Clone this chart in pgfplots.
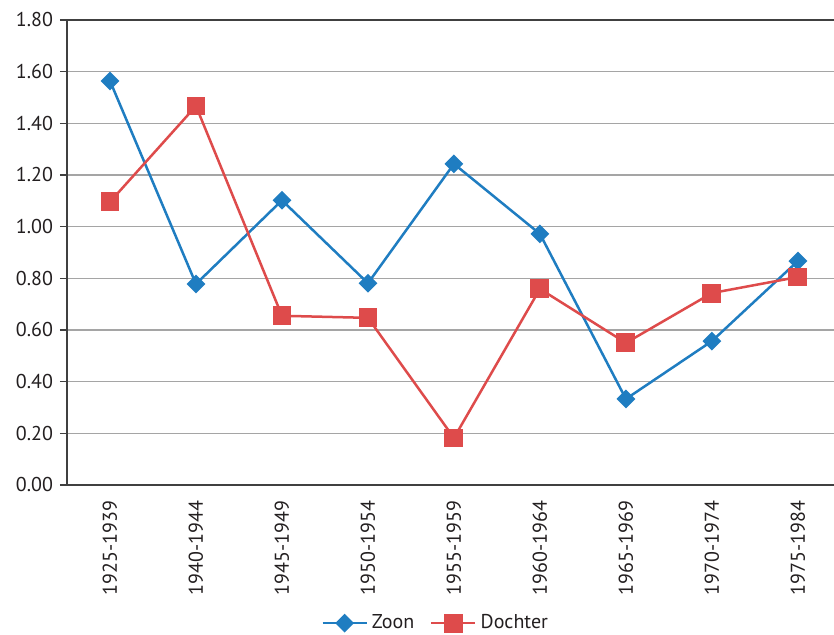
\documentclass[border=0pt]{standalone}
\usepackage{pgfplots}
\pgfplotsset{compat=1.18}
\usepackage{fontspec}
\setmainfont{PT Sans}
\definecolor{zoonblue}{RGB}{31,125,193}
\definecolor{dochred}{RGB}{222,75,75}
\definecolor{txt}{RGB}{35,31,32}
\definecolor{gridgray}{RGB}{165,165,165}
\begin{document}
\begin{tikzpicture}
\useasboundingbox (-33.5pt,-75pt) rectangle (383.5pt,242.5pt);
\begin{axis}[
    scale only axis,
    width=383.5pt,
    height=232.5pt,
    xmin=-0.5, xmax=8.42,
    ymin=0, ymax=1.8,
    ytick={0,0.2,...,1.8},
    xtick={0,...,8},
    xticklabels={1925-1939,1940-1944,1945-1949,1950-1954,1955-1959,1960-1964,1965-1969,1970-1974,1975-1984},
    x tick label style={rotate=90, anchor=east, xshift=-1pt},
    yticklabel style={/pgf/number format/.cd, fixed, fixed zerofill, precision=2},
    /pgf/number format/assume math mode=true,
    ticklabel style={font=\fontsize{10}{12}\selectfont, text=txt},
    axis x line*=bottom,
    axis y line*=left,
    axis line style={draw=black!75, line width=0.75pt},
    ymajorgrids,
    grid style={draw=gridgray, line width=0.75pt},
    xtick style={draw=none},
    ytick style={draw=black!75, line width=0.75pt},
    tick align=outside,
    major tick length=3.5pt,
    legend style={at={(0.482,-0.297)}, anchor=center, draw=none, fill=none,
        font=\fontsize{10}{12}\selectfont, text=txt,
        /tikz/every even column/.append style={column sep=6pt},
        nodes={inner xsep=2pt}},
    legend columns=2,
    legend image code/.code={
        \draw[#1, mark=none] (0pt,0pt) -- (22pt,0pt);
        \draw[#1, draw=none] plot coordinates {(11pt,0pt)};
    },
]
\draw[black!75, line width=0.75pt] (axis cs:-0.5,1.8) -- (axis cs:8.42,1.8);
\addplot[color=zoonblue, line width=1.25pt, mark=square*, mark size=2.7pt,
    mark options={rotate=45, solid, fill=zoonblue}]
    coordinates {(0,1.564) (1,0.778) (2,1.102) (3,0.781) (4,1.243) (5,0.972) (6,0.333) (7,0.557) (8,0.867)};
\addlegendentry{Zoon}
\addplot[color=dochred, line width=1.25pt, mark=square*, mark size=4.1pt,
    mark options={solid, fill=dochred}]
    coordinates {(0,1.096) (1,1.467) (2,0.655) (3,0.647) (4,0.182) (5,0.759) (6,0.550) (7,0.743) (8,0.805)};
\addlegendentry{Dochter}
\end{axis}
\end{tikzpicture}
\end{document}
